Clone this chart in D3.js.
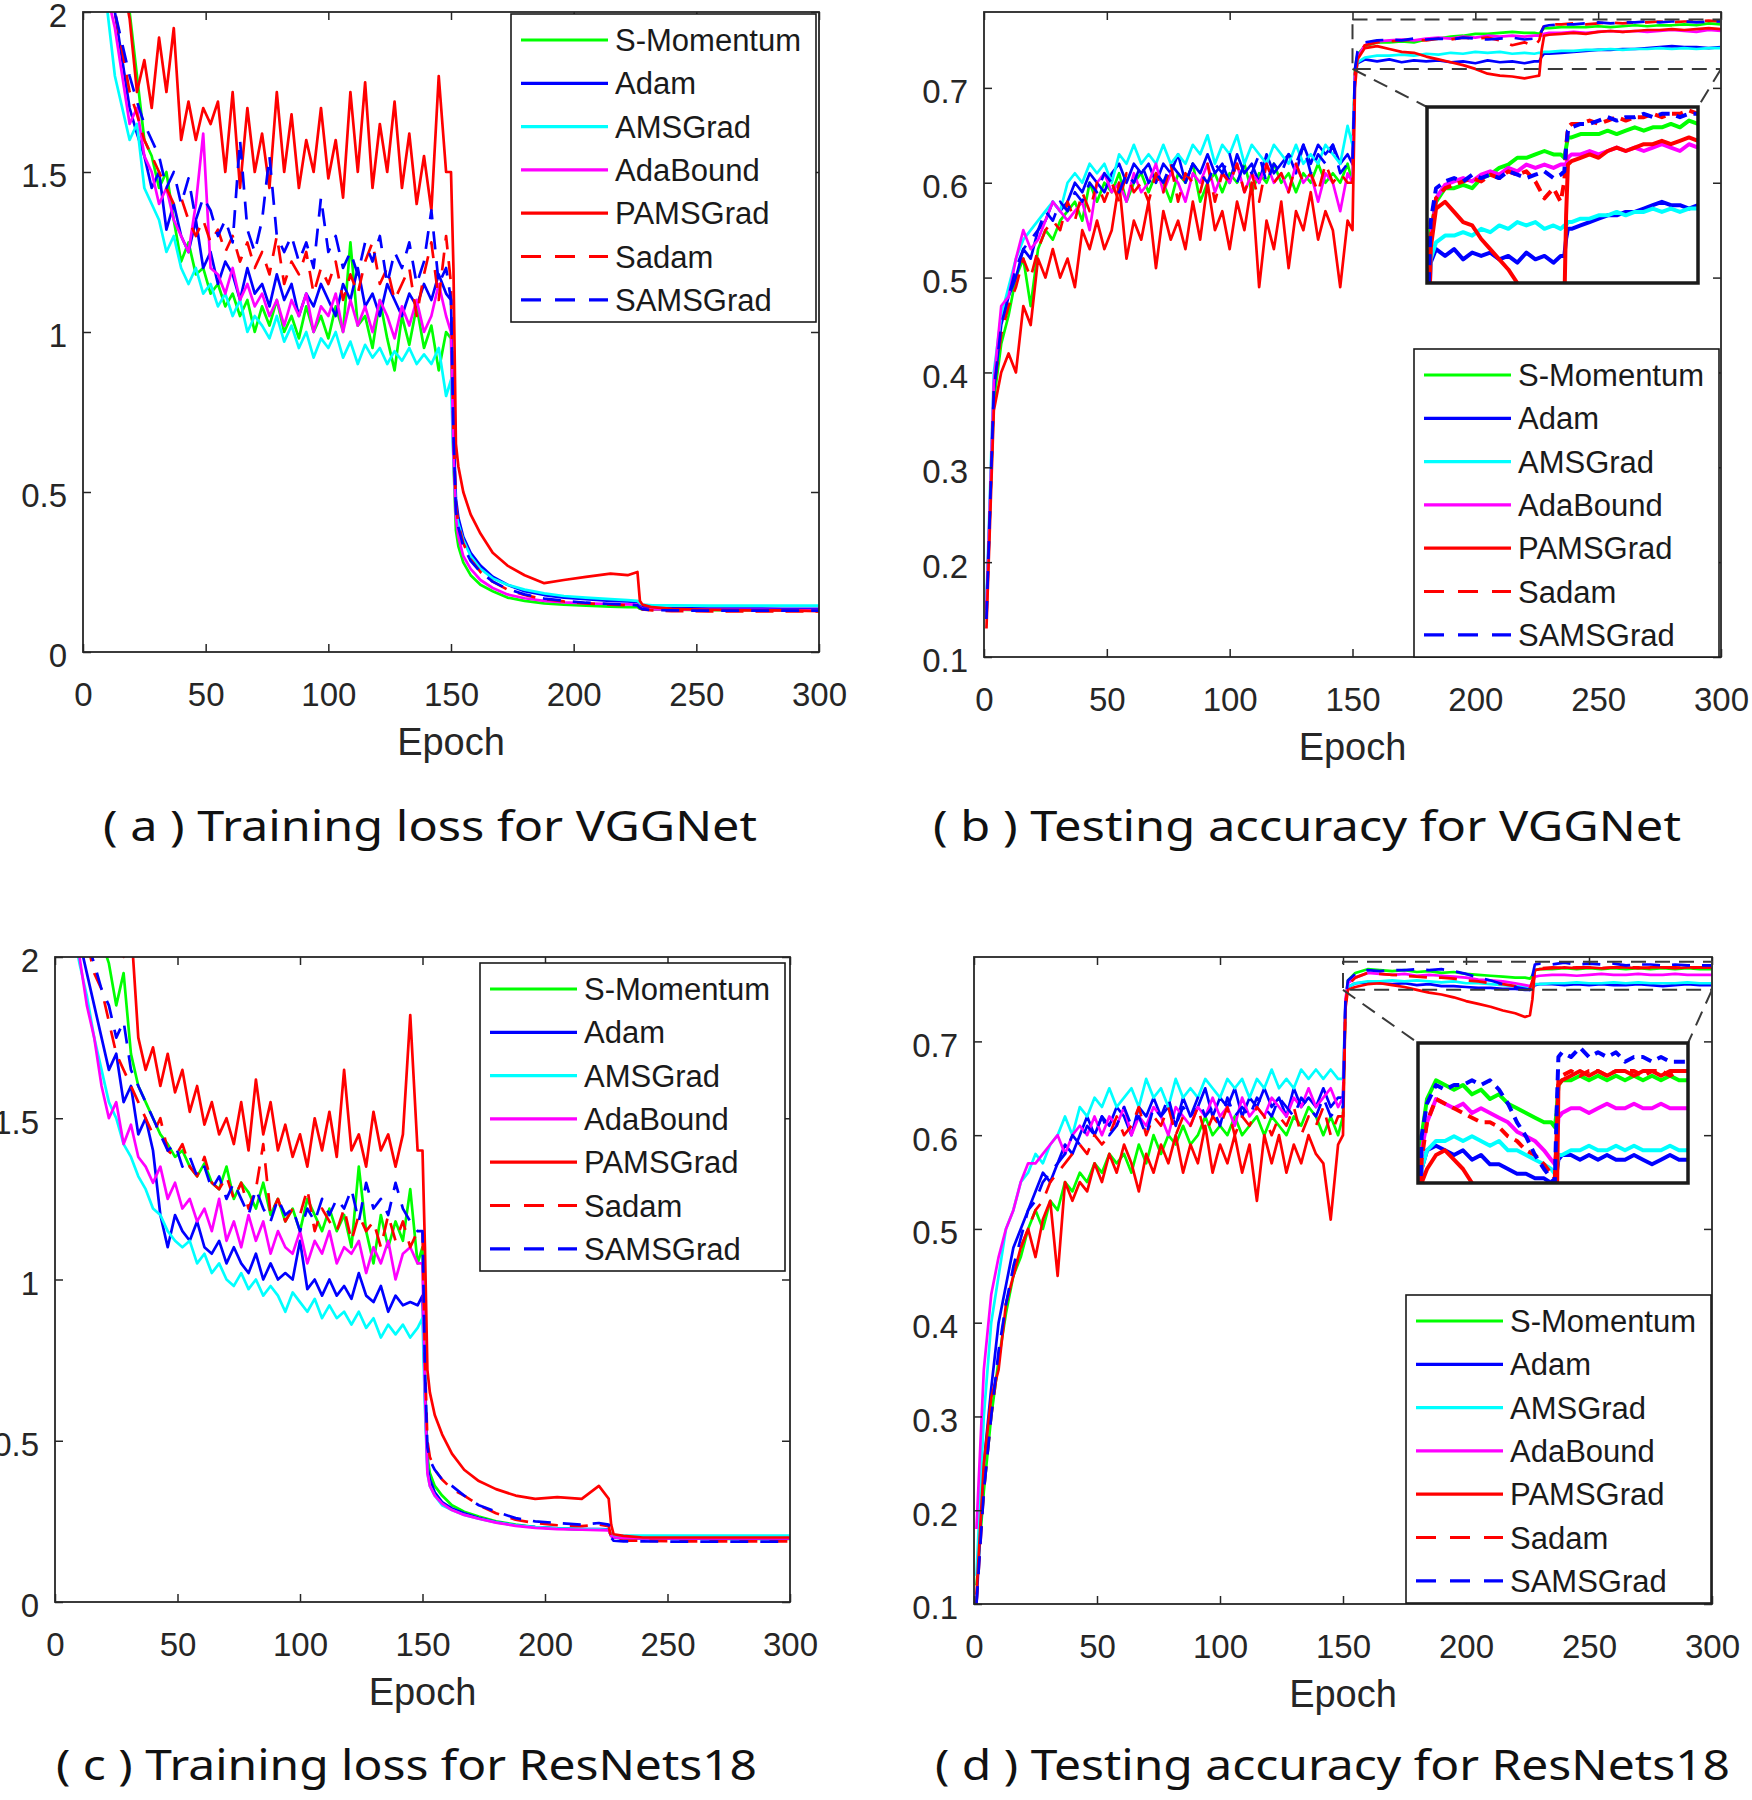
<!DOCTYPE html>
<html><head><meta charset="utf-8">
<script src="https://cdn.jsdelivr.net/npm/d3@7"></script>
<style>body{margin:0;background:#fff}svg{display:block}</style>
</head><body>
<svg id="chart" width="1752" height="1800"></svg>
<script>
// ---------- shared categories / ticks ----------
const seriesNames = ["S-Momentum","Adam","AMSGrad","AdaBound","PAMSGrad","Sadam","SAMSGrad"];
const xTicks = [0,50,100,150,200,250,300];
const lossTicks = [0,0.5,1,1.5,2];
const accTicks = [0.1,0.2,0.3,0.4,0.5,0.6,0.7];
const preEpochs = [1,4,7,10,13,16,19,22,25,28,31,34,37,40,43,46,49,52,55,58,61,64,67,70,73,76,79,82,85,88,91,94,97,100,103,106,109,112,115,118,121,124,127,130,133,136,139,142,145,148];
const lossPostEpochs = [150,151,152,153,155,158,162,167,173,180,188,196,205,215,222,226,227,228,232,240,255,270,285,300];
const accPostEpochs = [150,151,152,155,160,165,170,175,180,185,190,195,200,205,210,215,220,224,226,227,228,230,235,240,245,250,255,260,265,270,275,280,285,290,295,300];

// ---------- (a) Training loss, VGGNet ----------
const aSMomentum = [2.3,2.25,2.2,2.15,2.1,2.05,2.0,1.8,1.6,1.55,1.45,1.5,1.35,1.22,1.28,1.18,1.2,1.12,1.15,1.08,1.12,1.05,1.1,1.0,1.08,1.02,1.1,1.0,1.05,0.98,1.08,1.0,1.05,0.98,1.08,1.0,1.28,1.02,1.05,0.95,1.1,0.98,0.88,1.05,0.96,1.08,0.95,1.02,0.88,1.0,
  0.98,0.6,0.38,0.33,0.28,0.24,0.21,0.19,0.17,0.16,0.152,0.148,0.145,0.142,0.14,0.14,0.135,0.133,0.132,0.132,0.131,0.131,0.13,0.13];
const aAdam = [2.35,2.3,2.2,2.1,2.0,1.85,1.7,1.62,1.55,1.45,1.5,1.32,1.4,1.3,1.25,1.35,1.2,1.25,1.15,1.22,1.18,1.1,1.2,1.12,1.15,1.08,1.18,1.1,1.15,1.05,1.12,1.08,1.15,1.1,1.05,1.15,1.1,1.2,1.08,1.12,1.05,1.15,1.1,1.05,1.12,1.08,1.15,1.1,1.18,1.12,
  1.1,0.7,0.48,0.42,0.36,0.31,0.27,0.235,0.21,0.19,0.178,0.17,0.165,0.16,0.158,0.156,0.145,0.14,0.138,0.137,0.136,0.136,0.135,0.135];
const aAMSGrad = [2.3,2.2,2.1,2.0,1.8,1.7,1.6,1.65,1.45,1.4,1.35,1.25,1.3,1.2,1.15,1.2,1.12,1.15,1.08,1.12,1.05,1.1,1.0,1.05,1.02,0.98,1.05,0.97,1.02,0.95,1.0,0.92,0.98,0.95,1.0,0.92,0.97,0.9,0.96,0.92,0.95,0.9,0.94,0.91,0.95,0.9,0.93,0.9,0.95,0.8,
  0.85,0.6,0.44,0.4,0.35,0.3,0.26,0.23,0.21,0.195,0.183,0.175,0.17,0.165,0.162,0.16,0.152,0.148,0.146,0.146,0.145,0.145,0.145,0.145];
const aAdaBound = [2.3,2.2,2.12,2.05,1.95,1.8,1.65,1.7,1.55,1.5,1.4,1.45,1.35,1.3,1.25,1.4,1.62,1.2,1.18,1.12,1.2,1.1,1.15,1.08,1.12,1.05,1.1,1.02,1.1,1.05,1.12,1.0,1.08,1.05,1.12,1.0,1.1,1.02,1.08,1.0,1.1,1.05,0.98,1.08,1.02,1.1,1.0,1.05,1.15,1.05,
  1.0,0.62,0.42,0.36,0.3,0.26,0.225,0.2,0.18,0.168,0.16,0.155,0.152,0.15,0.149,0.148,0.14,0.135,0.133,0.133,0.132,0.132,0.131,0.131];
const aPAMSGrad = [2.4,2.35,2.3,2.25,2.2,2.1,1.98,1.75,1.85,1.7,1.92,1.75,1.95,1.6,1.72,1.6,1.7,1.65,1.72,1.5,1.75,1.45,1.7,1.5,1.62,1.45,1.75,1.5,1.68,1.45,1.6,1.5,1.7,1.48,1.6,1.42,1.75,1.5,1.78,1.45,1.65,1.5,1.72,1.45,1.62,1.4,1.55,1.38,1.8,1.5,
  1.5,1.2,0.65,0.58,0.5,0.43,0.37,0.31,0.27,0.24,0.215,0.225,0.235,0.245,0.24,0.25,0.16,0.148,0.14,0.135,0.132,0.13,0.13,0.128];
const aSadam = [2.35,2.3,2.2,2.1,2.0,1.88,1.75,1.68,1.6,1.55,1.5,1.45,1.4,1.42,1.35,1.3,1.35,1.28,1.32,1.25,1.3,1.22,1.28,1.2,1.25,1.18,1.3,1.15,1.22,1.18,1.25,1.12,1.2,1.15,1.22,1.1,1.18,1.12,1.22,1.28,1.15,1.2,1.1,1.15,1.2,1.05,1.18,1.28,1.1,1.3,
  1.15,0.7,0.46,0.4,0.34,0.29,0.25,0.22,0.195,0.178,0.165,0.158,0.152,0.148,0.146,0.145,0.138,0.133,0.13,0.128,0.127,0.127,0.127,0.127];
const aSAMSGrad = [2.35,2.3,2.2,2.1,2.0,1.9,1.8,1.72,1.65,1.6,1.55,1.45,1.5,1.4,1.48,1.35,1.42,1.38,1.3,1.35,1.28,1.6,1.32,1.25,1.35,1.55,1.3,1.25,1.3,1.22,1.28,1.2,1.42,1.25,1.3,1.2,1.25,1.18,1.28,1.22,1.3,1.15,1.25,1.2,1.28,1.15,1.22,1.38,1.15,1.2,
  1.1,0.68,0.44,0.39,0.33,0.285,0.25,0.22,0.197,0.18,0.167,0.16,0.154,0.15,0.148,0.146,0.138,0.134,0.131,0.13,0.129,0.129,0.129,0.129];

// ---------- (b) Testing accuracy, VGGNet ----------
const bSMomentum = [0.15,0.37,0.43,0.46,0.5,0.52,0.47,0.53,0.55,0.54,0.56,0.57,0.58,0.56,0.6,0.58,0.6,0.59,0.61,0.58,0.6,0.61,0.59,0.61,0.6,0.58,0.61,0.6,0.62,0.58,0.6,0.61,0.59,0.61,0.6,0.62,0.59,0.61,0.6,0.62,0.6,0.61,0.59,0.61,0.6,0.62,0.6,0.61,0.6,0.62,
  0.6,0.72,0.735,0.744,0.748,0.748,0.749,0.748,0.751,0.752,0.754,0.755,0.757,0.757,0.758,0.759,0.758,0.758,0.757,0.76,0.763,0.763,0.764,0.764,0.764,0.765,0.764,0.765,0.766,0.765,0.766,0.766,0.767,0.766,0.768,0.767];
const bAdam = [0.15,0.38,0.45,0.48,0.5,0.53,0.52,0.55,0.56,0.58,0.57,0.58,0.6,0.59,0.61,0.6,0.59,0.61,0.62,0.6,0.62,0.61,0.62,0.6,0.62,0.61,0.63,0.6,0.62,0.61,0.63,0.61,0.62,0.6,0.63,0.61,0.62,0.6,0.63,0.61,0.62,0.63,0.61,0.64,0.62,0.64,0.63,0.64,0.62,0.63,
  0.62,0.71,0.726,0.73,0.728,0.73,0.727,0.729,0.728,0.729,0.727,0.728,0.726,0.729,0.727,0.728,0.726,0.728,0.728,0.733,0.736,0.736,0.737,0.738,0.739,0.74,0.74,0.741,0.741,0.742,0.743,0.744,0.743,0.743,0.742,0.743];
const bAMSGrad = [0.16,0.4,0.46,0.49,0.52,0.54,0.55,0.56,0.57,0.58,0.57,0.6,0.61,0.6,0.62,0.61,0.62,0.6,0.63,0.62,0.64,0.62,0.63,0.62,0.64,0.62,0.63,0.62,0.64,0.63,0.65,0.62,0.64,0.63,0.65,0.62,0.64,0.63,0.62,0.64,0.63,0.62,0.64,0.62,0.63,0.62,0.64,0.63,0.62,0.66,
  0.64,0.715,0.727,0.732,0.734,0.734,0.735,0.734,0.736,0.735,0.737,0.736,0.738,0.737,0.738,0.736,0.737,0.736,0.737,0.737,0.738,0.738,0.739,0.739,0.74,0.74,0.741,0.74,0.741,0.741,0.742,0.741,0.742,0.741,0.742,0.742];
const bAdaBound = [0.15,0.39,0.47,0.48,0.52,0.55,0.53,0.54,0.56,0.58,0.57,0.56,0.57,0.58,0.55,0.6,0.61,0.59,0.6,0.58,0.61,0.59,0.6,0.62,0.59,0.61,0.6,0.58,0.61,0.6,0.62,0.59,0.61,0.6,0.62,0.59,0.61,0.6,0.62,0.6,0.61,0.59,0.62,0.6,0.61,0.58,0.61,0.6,0.57,0.61,
  0.6,0.715,0.732,0.745,0.749,0.75,0.751,0.75,0.752,0.753,0.752,0.754,0.753,0.755,0.754,0.755,0.754,0.755,0.755,0.755,0.757,0.758,0.758,0.759,0.758,0.759,0.76,0.759,0.76,0.759,0.76,0.761,0.76,0.759,0.761,0.76];
const bPAMSGrad = [0.13,0.36,0.4,0.42,0.4,0.47,0.45,0.52,0.5,0.53,0.5,0.52,0.49,0.55,0.53,0.56,0.53,0.55,0.6,0.52,0.56,0.54,0.58,0.51,0.57,0.54,0.56,0.53,0.58,0.54,0.6,0.55,0.57,0.53,0.58,0.55,0.6,0.49,0.56,0.53,0.58,0.51,0.57,0.55,0.59,0.54,0.57,0.55,0.49,0.56,
  0.55,0.7,0.73,0.742,0.744,0.741,0.738,0.737,0.733,0.73,0.727,0.724,0.72,0.715,0.713,0.712,0.71,0.712,0.713,0.74,0.755,0.756,0.757,0.758,0.757,0.759,0.76,0.759,0.76,0.761,0.761,0.762,0.761,0.762,0.763,0.762];
const bSadam = [0.14,0.38,0.44,0.47,0.49,0.52,0.5,0.53,0.55,0.56,0.55,0.58,0.56,0.59,0.57,0.6,0.58,0.6,0.58,0.61,0.59,0.6,0.58,0.61,0.59,0.62,0.58,0.61,0.6,0.59,0.62,0.58,0.61,0.6,0.62,0.59,0.61,0.58,0.62,0.6,0.61,0.59,0.62,0.6,0.61,0.59,0.62,0.6,0.61,0.6,
  0.6,0.715,0.733,0.745,0.748,0.749,0.75,0.751,0.75,0.752,0.751,0.753,0.752,0.753,0.75,0.745,0.748,0.744,0.75,0.76,0.766,0.767,0.767,0.768,0.767,0.768,0.769,0.768,0.769,0.769,0.77,0.769,0.77,0.77,0.771,0.77];
const bSAMSGrad = [0.14,0.38,0.45,0.48,0.51,0.53,0.54,0.55,0.57,0.56,0.58,0.57,0.59,0.58,0.6,0.59,0.61,0.6,0.59,0.61,0.6,0.62,0.6,0.61,0.6,0.62,0.61,0.6,0.62,0.61,0.6,0.62,0.61,0.63,0.6,0.62,0.61,0.63,0.6,0.62,0.61,0.63,0.62,0.64,0.61,0.63,0.62,0.64,0.61,0.62,
  0.62,0.72,0.738,0.748,0.75,0.751,0.75,0.752,0.751,0.752,0.751,0.753,0.752,0.751,0.752,0.753,0.751,0.752,0.753,0.76,0.765,0.766,0.767,0.767,0.768,0.769,0.768,0.769,0.769,0.77,0.769,0.77,0.77,0.769,0.77,0.77];

// ---------- (c) Training loss, ResNets18 ----------
const cSMomentum = [2.4,2.35,2.3,2.25,2.2,2.1,2.05,1.98,1.85,1.95,1.7,1.6,1.55,1.5,1.45,1.42,1.38,1.4,1.35,1.32,1.36,1.3,1.28,1.35,1.25,1.3,1.27,1.22,1.3,1.2,1.25,1.18,1.22,1.15,1.25,1.2,1.15,1.22,1.15,1.2,1.1,1.35,1.15,1.05,1.2,1.1,1.18,1.12,1.28,1.05,
  1.1,0.7,0.45,0.4,0.36,0.33,0.3,0.28,0.265,0.25,0.24,0.232,0.228,0.225,0.225,0.224,0.205,0.2,0.198,0.197,0.197,0.196,0.196,0.196];
const cAdam = [2.35,2.25,2.15,2.05,1.95,1.85,1.75,1.65,1.7,1.55,1.6,1.45,1.5,1.4,1.2,1.1,1.2,1.15,1.12,1.18,1.1,1.08,1.12,1.05,1.1,1.05,1.02,1.08,1.0,1.05,1.0,1.02,1.0,1.12,0.97,1.0,0.95,1.0,0.95,0.98,0.94,1.02,0.95,0.93,0.98,0.9,0.95,0.92,0.93,0.92,
  0.95,0.65,0.42,0.38,0.34,0.31,0.29,0.275,0.26,0.248,0.238,0.232,0.228,0.226,0.226,0.225,0.205,0.2,0.198,0.198,0.197,0.197,0.197,0.197];
const cAMSGrad = [2.3,2.2,2.1,1.98,1.88,1.75,1.65,1.55,1.5,1.42,1.38,1.32,1.28,1.22,1.2,1.15,1.12,1.1,1.12,1.05,1.08,1.02,1.05,1.0,0.98,1.02,0.97,1.0,0.95,0.98,0.95,0.9,0.96,0.93,0.9,0.94,0.88,0.92,0.88,0.9,0.86,0.9,0.85,0.88,0.82,0.86,0.83,0.86,0.82,0.85,
  0.88,0.6,0.4,0.36,0.33,0.3,0.285,0.27,0.258,0.247,0.238,0.232,0.228,0.226,0.225,0.224,0.21,0.207,0.206,0.206,0.206,0.206,0.206,0.206];
const cAdaBound = [2.3,2.2,2.1,2.0,1.85,1.75,1.6,1.5,1.55,1.42,1.48,1.38,1.35,1.3,1.35,1.25,1.3,1.22,1.25,1.18,1.22,1.15,1.25,1.12,1.18,1.1,1.2,1.12,1.18,1.08,1.15,1.1,1.08,1.15,1.05,1.12,1.08,1.15,1.05,1.1,1.08,1.12,1.02,1.1,1.05,1.12,1.0,1.08,1.1,1.05,
  1.05,0.65,0.4,0.36,0.33,0.305,0.285,0.27,0.258,0.246,0.236,0.23,0.226,0.224,0.223,0.222,0.205,0.2,0.198,0.197,0.197,0.197,0.197,0.197];
const cPAMSGrad = [2.5,2.45,2.4,2.35,2.3,2.2,2.15,2.05,2.1,2.0,2.1,1.75,1.65,1.72,1.6,1.7,1.58,1.65,1.52,1.6,1.48,1.55,1.45,1.5,1.42,1.55,1.4,1.62,1.45,1.55,1.4,1.48,1.38,1.45,1.35,1.5,1.4,1.52,1.38,1.65,1.4,1.45,1.35,1.52,1.4,1.45,1.35,1.45,1.82,1.4,
  1.4,1.1,0.72,0.65,0.58,0.52,0.46,0.41,0.375,0.35,0.33,0.32,0.325,0.32,0.36,0.32,0.24,0.21,0.205,0.2,0.2,0.2,0.2,0.2];
const cSadam = [2.4,2.3,2.2,2.1,2.05,1.95,1.9,1.8,1.7,1.65,1.6,1.55,1.5,1.45,1.5,1.4,1.38,1.42,1.35,1.32,1.38,1.3,1.28,1.32,1.25,1.3,1.22,1.28,1.42,1.2,1.25,1.18,1.22,1.2,1.28,1.15,1.22,1.18,1.15,1.22,1.12,1.2,1.15,1.18,1.1,1.2,1.12,1.18,1.1,1.15,
  1.15,0.75,0.5,0.45,0.41,0.38,0.35,0.33,0.3,0.275,0.255,0.245,0.238,0.235,0.24,0.235,0.2,0.192,0.19,0.19,0.188,0.188,0.188,0.188];
const cSAMSGrad = [2.4,2.3,2.2,2.12,2.05,1.98,1.9,1.85,1.75,1.8,1.65,1.6,1.55,1.5,1.45,1.4,1.42,1.35,1.38,1.32,1.35,1.28,1.32,1.25,1.3,1.25,1.2,1.28,1.22,1.18,1.25,1.2,1.22,1.15,1.22,1.18,1.25,1.2,1.25,1.22,1.28,1.18,1.3,1.22,1.25,1.2,1.3,1.22,1.18,1.15,
  1.15,0.72,0.48,0.44,0.41,0.38,0.36,0.33,0.3,0.28,0.26,0.25,0.245,0.24,0.245,0.24,0.2,0.19,0.188,0.188,0.187,0.187,0.187,0.187];

// ---------- (d) Testing accuracy, ResNets18 ----------
const dSMomentum = [0.12,0.22,0.3,0.36,0.41,0.45,0.47,0.5,0.52,0.5,0.53,0.52,0.55,0.54,0.56,0.55,0.57,0.56,0.58,0.57,0.58,0.56,0.59,0.57,0.6,0.58,0.6,0.59,0.61,0.59,0.6,0.62,0.6,0.61,0.6,0.62,0.6,0.61,0.62,0.6,0.62,0.61,0.6,0.62,0.61,0.63,0.62,0.6,0.62,0.6,
  0.62,0.74,0.765,0.773,0.777,0.776,0.775,0.776,0.774,0.775,0.773,0.774,0.772,0.771,0.77,0.769,0.768,0.768,0.767,0.77,0.776,0.777,0.777,0.778,0.777,0.778,0.777,0.778,0.777,0.778,0.777,0.778,0.777,0.778,0.777,0.777];
const dAdam = [0.1,0.25,0.33,0.4,0.44,0.48,0.5,0.52,0.54,0.56,0.55,0.57,0.59,0.58,0.6,0.62,0.6,0.62,0.61,0.63,0.62,0.6,0.63,0.62,0.64,0.62,0.63,0.61,0.64,0.62,0.63,0.65,0.62,0.64,0.63,0.65,0.62,0.64,0.63,0.65,0.63,0.64,0.62,0.65,0.63,0.64,0.63,0.65,0.63,0.64,
  0.64,0.74,0.758,0.762,0.763,0.762,0.761,0.762,0.76,0.761,0.759,0.759,0.758,0.757,0.757,0.756,0.756,0.755,0.755,0.757,0.76,0.761,0.761,0.76,0.761,0.76,0.761,0.76,0.76,0.761,0.76,0.759,0.76,0.761,0.76,0.76];
const dAMSGrad = [0.13,0.3,0.4,0.45,0.5,0.52,0.55,0.56,0.58,0.57,0.59,0.6,0.62,0.6,0.63,0.62,0.64,0.63,0.65,0.63,0.64,0.65,0.63,0.66,0.64,0.65,0.63,0.66,0.64,0.65,0.64,0.66,0.65,0.64,0.66,0.65,0.66,0.64,0.66,0.65,0.67,0.65,0.66,0.65,0.67,0.66,0.67,0.66,0.67,0.66,
  0.66,0.74,0.758,0.762,0.764,0.764,0.765,0.764,0.765,0.764,0.763,0.764,0.762,0.762,0.761,0.76,0.759,0.758,0.757,0.758,0.761,0.761,0.762,0.762,0.763,0.762,0.762,0.763,0.762,0.763,0.762,0.762,0.762,0.763,0.762,0.762];
const dAdaBound = [0.18,0.35,0.43,0.47,0.5,0.52,0.55,0.57,0.57,0.58,0.59,0.6,0.58,0.6,0.61,0.6,0.62,0.6,0.62,0.61,0.63,0.6,0.62,0.61,0.63,0.62,0.6,0.63,0.62,0.61,0.63,0.62,0.64,0.62,0.63,0.61,0.64,0.62,0.63,0.62,0.64,0.63,0.62,0.64,0.63,0.65,0.63,0.64,0.65,0.63,
  0.64,0.745,0.762,0.768,0.773,0.772,0.771,0.772,0.77,0.771,0.77,0.769,0.768,0.766,0.765,0.764,0.762,0.76,0.759,0.762,0.769,0.77,0.771,0.771,0.77,0.771,0.772,0.771,0.771,0.772,0.771,0.771,0.772,0.771,0.771,0.771];
const dPAMSGrad = [0.11,0.25,0.32,0.35,0.42,0.45,0.48,0.5,0.47,0.51,0.53,0.45,0.55,0.53,0.55,0.54,0.57,0.55,0.58,0.56,0.59,0.57,0.54,0.58,0.56,0.59,0.57,0.6,0.56,0.59,0.57,0.61,0.56,0.59,0.57,0.6,0.56,0.59,0.53,0.6,0.57,0.6,0.56,0.59,0.57,0.6,0.58,0.57,0.51,0.59,
  0.6,0.735,0.755,0.758,0.761,0.762,0.76,0.758,0.755,0.752,0.75,0.747,0.743,0.74,0.737,0.733,0.73,0.726,0.728,0.745,0.776,0.777,0.778,0.779,0.778,0.779,0.778,0.779,0.779,0.778,0.779,0.779,0.778,0.779,0.779,0.779];
const dSadam = [0.1,0.22,0.3,0.36,0.42,0.45,0.48,0.5,0.52,0.53,0.55,0.56,0.57,0.58,0.59,0.58,0.6,0.59,0.6,0.62,0.6,0.61,0.63,0.6,0.62,0.61,0.63,0.6,0.62,0.61,0.63,0.6,0.62,0.61,0.63,0.6,0.62,0.61,0.63,0.62,0.6,0.62,0.61,0.63,0.6,0.62,0.61,0.63,0.6,0.62,
  0.62,0.74,0.76,0.768,0.773,0.772,0.771,0.77,0.769,0.768,0.768,0.767,0.765,0.764,0.762,0.761,0.759,0.757,0.756,0.765,0.777,0.778,0.779,0.778,0.779,0.779,0.778,0.779,0.779,0.779,0.778,0.779,0.779,0.778,0.779,0.779];
const dSAMSGrad = [0.1,0.22,0.3,0.37,0.42,0.46,0.49,0.52,0.53,0.55,0.56,0.57,0.58,0.6,0.59,0.61,0.6,0.62,0.6,0.61,0.63,0.61,0.62,0.6,0.63,0.62,0.64,0.61,0.63,0.62,0.64,0.62,0.63,0.61,0.64,0.62,0.63,0.62,0.64,0.63,0.62,0.64,0.63,0.62,0.64,0.63,0.62,0.64,0.62,0.63,
  0.63,0.745,0.765,0.772,0.776,0.775,0.776,0.776,0.777,0.776,0.777,0.775,0.772,0.768,0.765,0.761,0.758,0.756,0.755,0.77,0.782,0.783,0.782,0.784,0.782,0.783,0.782,0.783,0.781,0.782,0.782,0.781,0.782,0.781,0.781,0.781];

// ---------- styles ----------
const seriesColors = ["#00ff00","#0000ff","#00ffff","#ff00ff","#ff0000","#ff0000","#0000ff"];
const seriesDashed = [false,false,false,false,false,true,true];
const FONT = "'Liberation Sans', Arial, Helvetica, sans-serif";
const CAPFONT = "'Noto Sans', 'Open Sans', sans-serif";
const AXC = "#262626";

const panels = [
  {left:83, right:819, top:12, bottom:652, yDomain:[0,2], yTicks:lossTicks, post:lossPostEpochs,
   series:[aSMomentum,aAdam,aAMSGrad,aAdaBound,aPAMSGrad,aSadam,aSAMSGrad],
   legend:{x:511, y:14}, caption:{text:"( a ) Training loss for VGGNet", x:103, y:841, w:654}},
  {left:984, right:1721, top:12, bottom:657, yDomain:[0.1,0.78], yTicks:accTicks, post:accPostEpochs,
   series:[bSMomentum,bAdam,bAMSGrad,bAdaBound,bPAMSGrad,bSadam,bSAMSGrad],
   legend:{x:1414, y:349}, inset:{rect:[150,300,0.72,0.772], box:[1427,107,1698,283]},
   caption:{text:"( b ) Testing accuracy for VGGNet", x:933, y:841, w:748}},
  {left:55, right:790, top:957, bottom:1602, yDomain:[0,2], yTicks:lossTicks, post:lossPostEpochs,
   series:[cSMomentum,cAdam,cAMSGrad,cAdaBound,cPAMSGrad,cSadam,cSAMSGrad],
   legend:{x:480, y:963}, caption:{text:"( c ) Training loss for ResNets18", x:56, y:1780, w:701}},
  {left:974, right:1712, top:957, bottom:1604, yDomain:[0.1,0.79], yTicks:accTicks, post:accPostEpochs,
   series:[dSMomentum,dAdam,dAMSGrad,dAdaBound,dPAMSGrad,dSadam,dSAMSGrad],
   legend:{x:1406, y:1295}, inset:{rect:[150,300,0.755,0.785], box:[1418,1043,1688,1183]},
   caption:{text:"( d ) Testing accuracy for ResNets18", x:935, y:1780, w:795}}
];

const svg = d3.select("#chart");
const defs = svg.append("defs");
let clipN = 0;
function makeClip(x, y, w, h) {
  const id = "clip" + (clipN++);
  defs.append("clipPath").attr("id", id).append("rect").attr("x", x).attr("y", y).attr("width", w).attr("height", h);
  return `url(#${id})`;
}
function styleAxis(g) {
  g.attr("font-family", FONT).attr("font-size", 33);
  g.select(".domain").remove();
  g.selectAll(".tick line").attr("stroke", AXC).attr("stroke-width", 1.5);
  g.selectAll(".tick text").attr("fill", AXC);
}

panels.forEach(p => {
  const epochs = preEpochs.concat(p.post);
  const x = d3.scaleLinear().domain([0, 300]).range([p.left, p.right]);
  const y = d3.scaleLinear().domain(p.yDomain).range([p.bottom, p.top]);
  const g = svg.append("g");

  // lines
  const lg = g.append("g").attr("clip-path", makeClip(p.left, p.top, p.right - p.left, p.bottom - p.top));
  const line = d3.line().x((d, i) => x(epochs[i])).y(d => y(d));
  p.series.forEach((vals, k) => {
    lg.append("path").attr("d", line(vals)).attr("fill", "none")
      .attr("stroke", seriesColors[k]).attr("stroke-width", 2.7)
      .attr("stroke-linejoin", "round")
      .attr("stroke-dasharray", seriesDashed[k] ? "18,12" : null);
  });

  // axes (MATLAB style: inward ticks on all sides)
  g.append("g").attr("transform", `translate(0,${p.bottom})`)
    .call(d3.axisBottom(x).tickValues(xTicks).tickSize(-8).tickPadding(31).tickFormat(d => String(d))).call(styleAxis);
  g.append("g").attr("transform", `translate(0,${p.top})`)
    .call(d3.axisTop(x).tickValues(xTicks).tickSize(-8).tickFormat("")).call(styleAxis);
  const la = g.append("g").attr("transform", `translate(${p.left},0)`)
    .call(d3.axisLeft(y).tickValues(p.yTicks).tickSize(-8).tickPadding(16).tickFormat(d => String(d))).call(styleAxis);
  la.selectAll(".tick text").attr("dy", "0.45em");
  g.append("g").attr("transform", `translate(${p.right},0)`)
    .call(d3.axisRight(y).tickValues(p.yTicks).tickSize(-8).tickFormat("")).call(styleAxis);
  g.append("rect").attr("x", p.left).attr("y", p.top).attr("width", p.right - p.left).attr("height", p.bottom - p.top)
    .attr("fill", "none").attr("stroke", AXC).attr("stroke-width", 1.8);

  // x label
  g.append("text").attr("x", (p.left + p.right) / 2).attr("y", p.bottom + 103)
    .attr("text-anchor", "middle").attr("font-family", FONT).attr("font-size", 38).attr("fill", AXC).text("Epoch");

  // zoom inset
  if (p.inset) {
    const r = p.inset.rect, b = p.inset.box;
    const rx0 = x(r[0]), rx1 = x(r[1]), ry0 = y(r[2]), ry1 = y(r[3]);
    const dashStyle = s => s.attr("fill", "none").attr("stroke", "#3a3a3a").attr("stroke-width", 2).attr("stroke-dasharray", "15,9");
    g.append("rect").attr("x", rx0).attr("y", ry1).attr("width", rx1 - rx0).attr("height", ry0 - ry1).call(dashStyle);
    g.append("line").attr("x1", rx0).attr("y1", ry0).attr("x2", b[0]).attr("y2", b[1]).call(dashStyle);
    g.append("line").attr("x1", rx1).attr("y1", ry0).attr("x2", b[2]).attr("y2", b[1]).call(dashStyle);

    const ix = d3.scaleLinear().domain([r[0], r[1]]).range([b[0], b[2]]);
    const iy = d3.scaleLinear().domain([r[2], r[3]]).range([b[3], b[1]]);
    g.append("rect").attr("x", b[0]).attr("y", b[1]).attr("width", b[2] - b[0]).attr("height", b[3] - b[1]).attr("fill", "#fff");
    const ig = g.append("g").attr("clip-path", makeClip(b[0], b[1], b[2] - b[0], b[3] - b[1]));
    const iline = d3.line().defined((d, i) => epochs[i] >= 148).x((d, i) => ix(epochs[i])).y(d => iy(d));
    p.series.forEach((vals, k) => {
      ig.append("path").attr("d", iline(vals)).attr("fill", "none")
        .attr("stroke", seriesColors[k]).attr("stroke-width", 4)
        .attr("stroke-linejoin", "round")
        .attr("stroke-dasharray", seriesDashed[k] ? "11,7" : null);
    });
    g.append("rect").attr("x", b[0]).attr("y", b[1]).attr("width", b[2] - b[0]).attr("height", b[3] - b[1])
      .attr("fill", "none").attr("stroke", "#1a1a1a").attr("stroke-width", 3.5);
  }

  // legend
  const L = p.legend, LW = 305, LH = 308;
  const leg = g.append("g");
  leg.append("rect").attr("x", L.x).attr("y", L.y).attr("width", LW).attr("height", LH)
    .attr("fill", "#fff").attr("stroke", "#1a1a1a").attr("stroke-width", 1.6);
  seriesNames.forEach((name, k) => {
    const yy = L.y + 26 + k * 43.3;
    leg.append("line").attr("x1", L.x + 10).attr("x2", L.x + 97).attr("y1", yy).attr("y2", yy)
      .attr("stroke", seriesColors[k]).attr("stroke-width", 3.2)
      .attr("stroke-dasharray", seriesDashed[k] ? "20,14" : null);
    leg.append("text").attr("x", L.x + 104).attr("y", yy).attr("dy", "0.36em")
      .attr("font-family", FONT).attr("font-size", 31).attr("fill", "#1a1a1a").text(name);
  });

  // caption
  svg.append("text").attr("x", p.caption.x).attr("y", p.caption.y)
    .attr("font-family", CAPFONT).attr("font-size", 42).attr("fill", "#111")
    .attr("textLength", p.caption.w).attr("lengthAdjust", "spacingAndGlyphs")
    .text(p.caption.text);
});
</script>
</body></html>
